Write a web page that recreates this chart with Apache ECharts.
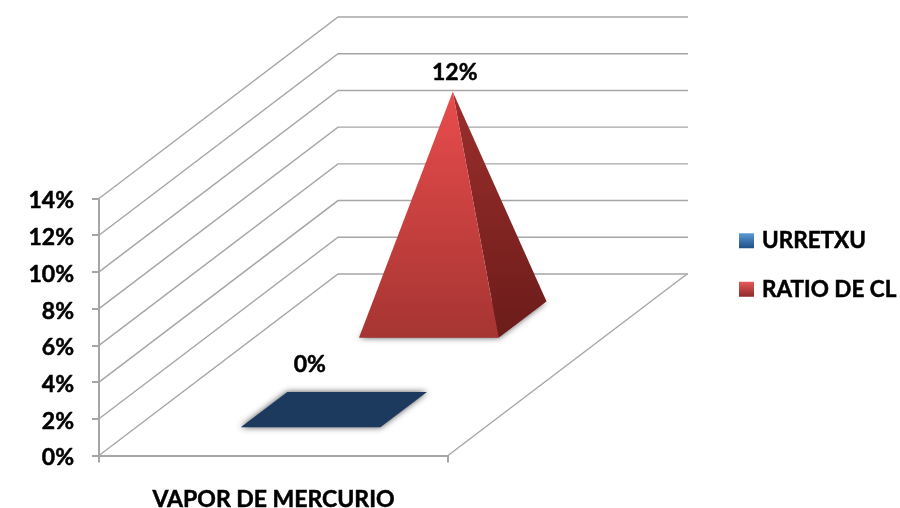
<!DOCTYPE html>
<html>
<head>
<meta charset="utf-8">
<style>html,body{margin:0;padding:0;background:#fff}#chart{width:900px;height:508px}</style>
<script src="https://cdn.jsdelivr.net/npm/echarts@6/dist/echarts.min.js"></script>
</head>
<body>
<div id="chart"></div>
<script>
const categories = ['VAPOR DE MERCURIO']
const seriesNames = ['URRETXU', 'RATIO DE CL']
const urretxu = [0]
const ratioCl = [12.4]
const yTicks = [0, 2, 4, 6, 8, 10, 12, 14]

const FONT = 'Lato, "Open Sans", sans-serif'
const FONT_SIZE = 23
const GRID_COLOR = '#a6a6a6'
// oblique depth of the 3D box, in pixels
const DEPTH_X = 239
const DEPTH_Y = -181.5
const BACK_WIDTH = 350
// lato bold is a bit thin next to the reference, thicken it
const textWeight = {textBorderColor: '#000', textBorderWidth: 0.5}
const labelText = Object.assign({color: '#000', fontFamily: FONT, fontWeight: 'bold', fontSize: FONT_SIZE}, textWeight)

function project(api, u, depth, value) {
    const p = api.coord([0, value])
    const band = api.size([1, 0])[0]
    return [p[0] + (u - 0.5) * band + depth * DEPTH_X, p[1] + depth * DEPTH_Y]
}

function gradient(top, bottom) {
    return {
        type: 'linear', x: 0, y: 0, x2: 0, y2: 1,
        colorStops: [{offset: 0, color: top}, {offset: 1, color: bottom}]
    }
}

function renderWall(params, api) {
    const value = api.value(1)
    const start = api.coord([0, value])
    const left = start[0] - api.size([1, 0])[0] / 2
    const back = [left + DEPTH_X, start[1] + DEPTH_Y]
    const children = [{
        type: 'polyline',
        shape: {points: [[left, start[1]], back, [back[0] + BACK_WIDTH, back[1]]]},
        style: {stroke: GRID_COLOR, lineWidth: 1.4, fill: null}
    }]
    if (value === 0) {
        const right = [left + api.size([1, 0])[0], start[1]]
        children.push({
            type: 'line',
            shape: {x1: right[0], y1: right[1], x2: right[0] + DEPTH_X, y2: right[1] + DEPTH_Y},
            style: {stroke: GRID_COLOR, lineWidth: 1.4}
        })
    }
    return {type: 'group', children: children}
}

function pyramid(opts) {
    return function (params, api) {
        const value = api.value(1)
        const d0 = opts.depth[0]
        const d1 = opts.depth[1]
        const fl = project(api, 0.3, d0, 0)
        const fr = project(api, 0.7, d0, 0)
        const br = project(api, 0.7, d1, 0)
        const bl = project(api, 0.3, d1, 0)
        const apex = project(api, 0.5, (d0 + d1) / 2, value)
        const children = [{
            type: 'polygon',
            shape: {points: [fl, fr, br, bl]},
            style: {
                fill: opts.base,
                shadowColor: 'rgba(0,0,0,0.7)',
                shadowBlur: 6
            }
        }]
        if (value > 0) {
            children.push({
                type: 'polygon',
                shape: {points: [fr, br, apex]},
                style: {fill: gradient(opts.side[0], opts.side[1])}
            }, {
                type: 'polygon',
                shape: {points: [fl, fr, apex]},
                style: {fill: gradient(opts.front[0], opts.front[1])}
            })
        }
        children.push({
            type: 'text',
            style: {
                text: Math.round(value) + '%',
                x: apex[0] + opts.labelOffset[0],
                y: apex[1] + opts.labelOffset[1],
                fill: '#000',
                font: 'bold ' + FONT_SIZE + 'px ' + FONT,
                align: 'center',
                verticalAlign: 'middle',
                stroke: '#000',
                lineWidth: 0.5
            }
        })
        return {type: 'group', children: children}
    }
}

const chart = echarts.init(document.getElementById('chart'))
chart.setOption({
    animation: false,
    backgroundColor: '#fff',
    grid: {left: 99, top: 198.5, width: 349, height: 257, outerBoundsMode: 'none'},
    legend: {
        orient: 'vertical',
        left: 739,
        top: 229,
        padding: 0,
        itemWidth: 15,
        itemHeight: 15,
        itemGap: 25,
        selectedMode: false,
        textStyle: Object.assign({}, labelText, {fontSize: 22.5, padding: [0, 0, 0, 3]}),
        data: [
            {name: seriesNames[0], icon: 'rect', itemStyle: {color: gradient('#5b9bd5', '#1f4e86')}},
            {name: seriesNames[1], icon: 'rect', itemStyle: {color: gradient('#e8595a', '#8f2a28')}}
        ]
    },
    xAxis: {
        type: 'category',
        data: categories,
        boundaryGap: true,
        axisLine: {lineStyle: {color: GRID_COLOR, width: 2}},
        axisTick: {show: true, length: 7, lineStyle: {color: GRID_COLOR, width: 2}},
        axisLabel: Object.assign({}, labelText, {margin: 33, interval: 0})
    },
    yAxis: {
        type: 'value',
        min: 0,
        max: 14,
        interval: 2,
        axisLine: {show: true, lineStyle: {color: GRID_COLOR, width: 2}},
        axisTick: {show: true, length: 7, lineStyle: {color: GRID_COLOR, width: 2}},
        splitLine: {show: false},
        axisLabel: Object.assign({}, labelText, {
            margin: 25,
            formatter: '{t|{value}%}',
            rich: {t: Object.assign({}, labelText, {padding: [5, 0, 0, 0]})}
        })
    },
    series: [
        {
            name: 'wall',
            type: 'custom',
            silent: true,
            z: 1,
            renderItem: renderWall,
            data: yTicks.map(v => [0, v])
        },
        {
            name: seriesNames[1],
            type: 'custom',
            silent: true,
            z: 2,
            itemStyle: {color: '#c0504d'},
            renderItem: pyramid({
                depth: [0.65, 0.85],
                base: '#7a2320',
                front: ['#e94c4d', '#a63532'],
                side: ['#9c2f2c', '#6b1c1a'],
                labelOffset: [2, -19]
            }),
            data: ratioCl.map((v, i) => [i, v])
        },
        {
            name: seriesNames[0],
            type: 'custom',
            silent: true,
            z: 3,
            itemStyle: {color: '#4f81bd'},
            renderItem: pyramid({
                depth: [0.155, 0.35],
                base: '#1c3a5e',
                front: ['#4f81bd', '#1c3a5e'],
                side: ['#1c3a5e', '#1c3a5e'],
                labelOffset: [-24, -45]
            }),
            data: urretxu.map((v, i) => [i, v])
        }
    ]
})
</script>
</body>
</html>
